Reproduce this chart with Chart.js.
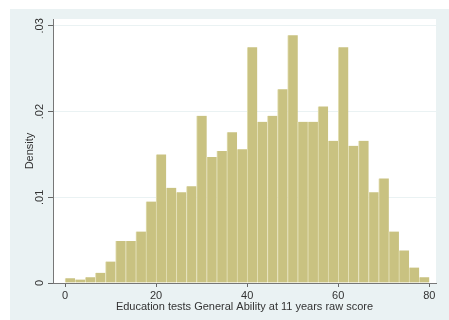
<!DOCTYPE html>
<html>
<head>
<meta charset="utf-8">
<script src="https://cdn.jsdelivr.net/npm/chart.js@4.4.1/dist/chart.umd.min.js"></script>
<style>
  html, body { margin: 0; padding: 0; background: #ffffff; }
  #wrap { position: relative; width: 449px; height: 320px; }
</style>
</head>
<body>
<div id="wrap"><canvas id="c" width="449" height="320"></canvas></div>
<script>
// Histogram bins: midpoints of the score bins (width 80/36)
const binMids = [1.11, 3.33, 5.56, 7.78, 10, 12.22, 14.44, 16.67, 18.89,
  21.11, 23.33, 25.56, 27.78, 30, 32.22, 34.44, 36.67, 38.89,
  41.11, 43.33, 45.56, 47.78, 50, 52.22, 54.44, 56.67, 58.89,
  61.11, 63.33, 65.56, 67.78, 70, 72.22, 74.44, 76.67, 78.89];

// Density in each bin
const density = [0.00054, 0.0004, 0.00066, 0.0012, 0.0025, 0.0049, 0.0049, 0.0060, 0.0095,
  0.0150, 0.0111, 0.0106, 0.0113, 0.0195, 0.0147, 0.0154, 0.0176, 0.0156,
  0.0275, 0.0188, 0.0195, 0.0226, 0.0289, 0.0188, 0.0188, 0.0206, 0.0166,
  0.0275, 0.0160, 0.0166, 0.0106, 0.0122, 0.0060, 0.0038, 0.0018, 0.00066];

const xTicks = [0, 20, 40, 60, 80];
const yTicks = [0, 0.01, 0.02, 0.03];
const yTickLabels = ['0', '.01', '.02', '.03'];

const xTitle = 'Education tests General Ability at 11 years raw score';
const yTitle = 'Density';

const FONT = "'Liberation Sans', Arial, sans-serif";
const BG = '#eaf2f3';

// Graph region background and white plot region
const backdrop = {
  id: 'backdrop',
  beforeDraw(chart) {
    const { ctx, chartArea: a } = chart;
    ctx.save();
    ctx.fillStyle = '#ffffff';
    ctx.fillRect(0, 0, chart.width, chart.height);
    ctx.fillStyle = BG;
    ctx.fillRect(10, 9, chart.width - 10, chart.height - 9);
    ctx.fillStyle = '#ffffff';
    ctx.fillRect(a.left, a.top, a.right - a.left, a.bottom - a.top);
    ctx.restore();
  }
};

new Chart(document.getElementById('c'), {
  type: 'bar',
  data: {
    datasets: [{
      data: binMids.map((x, i) => ({ x: x, y: density[i] })),
      backgroundColor: '#c9c281',
      borderColor: '#e4e0b6',
      borderWidth: { left: 1, right: 0, top: 0, bottom: 0 },
      borderSkipped: false,
      barPercentage: 1,
      categoryPercentage: 1
    }]
  },
  options: {
    responsive: false,
    animation: false,
    devicePixelRatio: 1,
    layout: { padding: { left: 0, top: 19, right: 13, bottom: 0 } },
    plugins: { legend: { display: false }, tooltip: { enabled: false } },
    scales: {
      x: {
        type: 'linear',
        offset: false,
        min: -2.64,
        max: 81.47,
        afterFit(s) { s.height = 37; },
        afterBuildTicks(s) { s.ticks = xTicks.map(v => ({ value: v })); },
        grid: { display: true, offset: false, drawOnChartArea: false, tickLength: 4, tickColor: '#666', lineWidth: 1 },
        border: { display: true, color: '#777', width: 1 },
        ticks: {
          padding: 2, color: '#333', font: { family: FONT, size: 11 },
          maxRotation: 0, minRotation: 0,
          callback: v => String(v)
        },
        title: {
          display: true, text: xTitle, color: '#333',
          font: { family: FONT, size: 11 },
          padding: { top: 0, bottom: 6 }
        }
      },
      y: {
        type: 'linear',
        min: 0,
        max: 0.0308,
        afterFit(s) { s.width = 53; },
        afterBuildTicks(s) { s.ticks = yTicks.map(v => ({ value: v })); },
        grid: { display: true, drawOnChartArea: true, color: BG, tickLength: 5, tickColor: '#666', lineWidth: 1 },
        border: { display: true, color: '#777', width: 1 },
        ticks: {
          padding: 0, color: '#333', font: { family: FONT, size: 11 },
          minRotation: 90, maxRotation: 90, crossAlign: 'center',
          callback: v => yTickLabels[yTicks.indexOf(v)]
        },
        title: {
          display: true, text: yTitle, color: '#333',
          font: { family: FONT, size: 11 },
          padding: { top: 23, bottom: 0 }
        }
      }
    }
  },
  plugins: [backdrop]
});
</script>
</body>
</html>
